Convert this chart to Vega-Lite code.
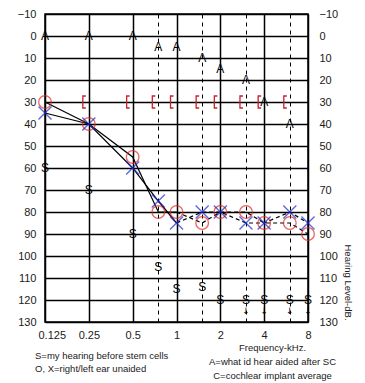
{
  "$schema": "https://vega.github.io/schema/vega-lite/v6.json",
  "width": 263,
  "height": 308,
  "autosize": "none",
  "padding": {"left": 45, "top": 14, "right": 57, "bottom": 61},
  "background": "white",
  "config": {
    "font": "Liberation Sans",
    "view": {"stroke": "black", "strokeWidth": 1.5},
    "axis": {
      "labelFont": "Liberation Sans", "labelFontSize": 11, "labelColor": "#1a1a1a",
      "ticks": false, "domain": false, "gridColor": "black", "gridOpacity": 1, "gridWidth": 1.5,
      "titleFont": "Liberation Sans", "titleFontWeight": "normal", "titleColor": "#1a1a1a"
    }
  },
  "title": {
    "text": ["S=my hearing before stem cells", "O, X=right/left ear unaided"],
    "orient": "bottom", "anchor": "start", "frame": "group",
    "font": "Liberation Sans", "fontSize": 9.5, "fontWeight": "normal", "color": "#1a1a1a",
    "lineHeight": 13, "offset": -29, "dx": -10
  },
  "data": {
    "values": [
      {"freq": 0.125, "right": 30, "left": 35, "aided": 0, "ci": null, "s": 60, "arrow": false},
      {"freq": 0.25, "right": 40, "left": 40, "aided": 0, "ci": 30, "s": 70, "arrow": false},
      {"freq": 0.5, "right": 55, "left": 60, "aided": 0, "ci": 30, "s": 90, "arrow": false},
      {"freq": 0.75, "right": 80, "left": 75, "aided": 5, "ci": 30, "s": 105, "arrow": false},
      {"freq": 1, "right": 80, "left": 85, "aided": 5, "ci": 30, "s": 115, "arrow": false},
      {"freq": 1.5, "right": 85, "left": 80, "aided": 10, "ci": 30, "s": 114, "arrow": false},
      {"freq": 2, "right": 80, "left": 80, "aided": 15, "ci": 30, "s": 120, "arrow": false},
      {"freq": 3, "right": 80, "left": 85, "aided": 20, "ci": 30, "s": 120, "arrow": true},
      {"freq": 4, "right": 85, "left": 85, "aided": 30, "ci": 30, "s": 120, "arrow": true},
      {"freq": 6, "right": 85, "left": 80, "aided": 40, "ci": 30, "s": 120, "arrow": true},
      {"freq": 8, "right": 90, "left": 85, "aided": null, "ci": null, "s": 120, "arrow": true}
    ]
  },
  "encoding": {
    "x": {
      "field": "freq", "type": "quantitative",
      "scale": {"type": "log", "base": 2, "domain": [0.125, 8], "nice": false},
      "axis": {
        "values": [0.125, 0.25, 0.5, 0.75, 1, 1.5, 2, 3, 4, 6, 8],
        "labelExpr": "indexof([0.75,1.5,3,6], datum.value) >= 0 ? '' : '' + datum.value",
        "labelPadding": 7,
        "labelAlign": {"condition": {"test": "datum.value == 0.125", "value": "left"}, "value": "center"},
        "labelOffset": {"condition": {"test": "datum.value == 0.125", "value": -7}, "value": 0},
        "gridDash": {"condition": {"test": "indexof([0.75,1.5,3,6], datum.value) >= 0", "value": [4, 4]}, "value": []},
        "gridWidth": {"condition": {"test": "indexof([0.75,1.5,3,6], datum.value) >= 0", "value": 1}, "value": 1.5},
        "title": ["Frequency-kHz.", "A=what id hear aided after SC", "C=cochlear implant average"],
        "titleFontSize": 9.5, "titleLineHeight": 14, "titleX": 227, "titleY": 20,
        "titleBaseline": "top", "titleAlign": "center"
      }
    }
  },
  "resolve": {"axis": {"y": "independent"}},
  "layer": [
    {
      "transform": [{"fold": ["right", "left"], "as": ["ear", "level"]}, {"filter": "datum.freq <= 1"}],
      "mark": {"type": "line", "color": "black", "strokeWidth": 1.2},
      "encoding": {
        "y": {"field": "level", "type": "quantitative", "scale": {"domain": [-10, 130], "reverse": true, "nice": false, "zero": false},
          "axis": {"orient": "left", "values": [-10, 0, 10, 20, 30, 40, 50, 60, 70, 80, 90, 100, 110, 120, 130], "grid": true, "labelPadding": 9, "title": null}},
        "detail": {"field": "ear"}
      }
    },
    {
      "transform": [{"fold": ["right", "left"], "as": ["ear", "level"]}, {"filter": "datum.freq >= 1"}],
      "mark": {"type": "line", "color": "black", "strokeWidth": 1.2, "strokeDash": [4, 3]},
      "encoding": {
        "y": {"field": "level", "type": "quantitative", "scale": {"domain": [-10, 130], "reverse": true, "nice": false, "zero": false},
          "axis": {"orient": "right", "values": [-10, 0, 10, 20, 30, 40, 50, 60, 70, 80, 90, 100, 110, 120, 130], "grid": false, "labelPadding": 11,
            "title": "Hearing Level-dB.", "titleFontSize": 9.5, "titleAngle": 90, "titleX": 39, "titleY": 268, "titleAlign": "center", "titleBaseline": "middle"}},
        "detail": {"field": "ear"}
      }
    },
    {
      "mark": {"type": "point", "shape": "circle", "filled": false, "stroke": "#e3261f", "strokeWidth": 1.3, "size": 160},
      "encoding": {"y": {"field": "right", "type": "quantitative", "scale": {"domain": [-10, 130], "reverse": true, "nice": false, "zero": false}, "axis": null}}
    },
    {
      "mark": {"type": "point", "shape": "M-1,-1L1,1M-1,1L1,-1", "filled": false, "stroke": "#1f2bd6", "strokeWidth": 1.4, "size": 170},
      "encoding": {"y": {"field": "left", "type": "quantitative", "scale": {"domain": [-10, 130], "reverse": true, "nice": false, "zero": false}, "axis": null}}
    },
    {
      "mark": {"type": "point", "shape": "M0,-1L-0.5,-1L-0.5,1L0,1", "filled": false, "stroke": "#c8202c", "strokeWidth": 1.3, "size": 144, "xOffset": -3, "opacity": 1},
      "encoding": {"y": {"field": "ci", "type": "quantitative", "scale": {"domain": [-10, 130], "reverse": true, "nice": false, "zero": false}, "axis": null}}
    },
    {
      "mark": {"type": "text", "text": "A", "fontSize": 12, "font": "Liberation Sans", "fill": "black", "baseline": "middle"},
      "encoding": {"y": {"field": "aided", "type": "quantitative", "scale": {"domain": [-10, 130], "reverse": true, "nice": false, "zero": false}, "axis": null}}
    },
    {
      "mark": {"type": "text", "text": "S", "fontSize": 12, "font": "Liberation Sans", "fill": "black", "baseline": "middle"},
      "encoding": {"y": {"field": "s", "type": "quantitative", "scale": {"domain": [-10, 130], "reverse": true, "nice": false, "zero": false}, "axis": null}}
    },
    {
      "transform": [{"filter": "datum.arrow"}],
      "mark": {"type": "text", "text": "↓", "fontSize": 9, "font": "DejaVu Sans", "fill": "black", "baseline": "middle", "dy": 11},
      "encoding": {"y": {"field": "s", "type": "quantitative", "scale": {"domain": [-10, 130], "reverse": true, "nice": false, "zero": false}, "axis": null}}
    }
  ]
}
